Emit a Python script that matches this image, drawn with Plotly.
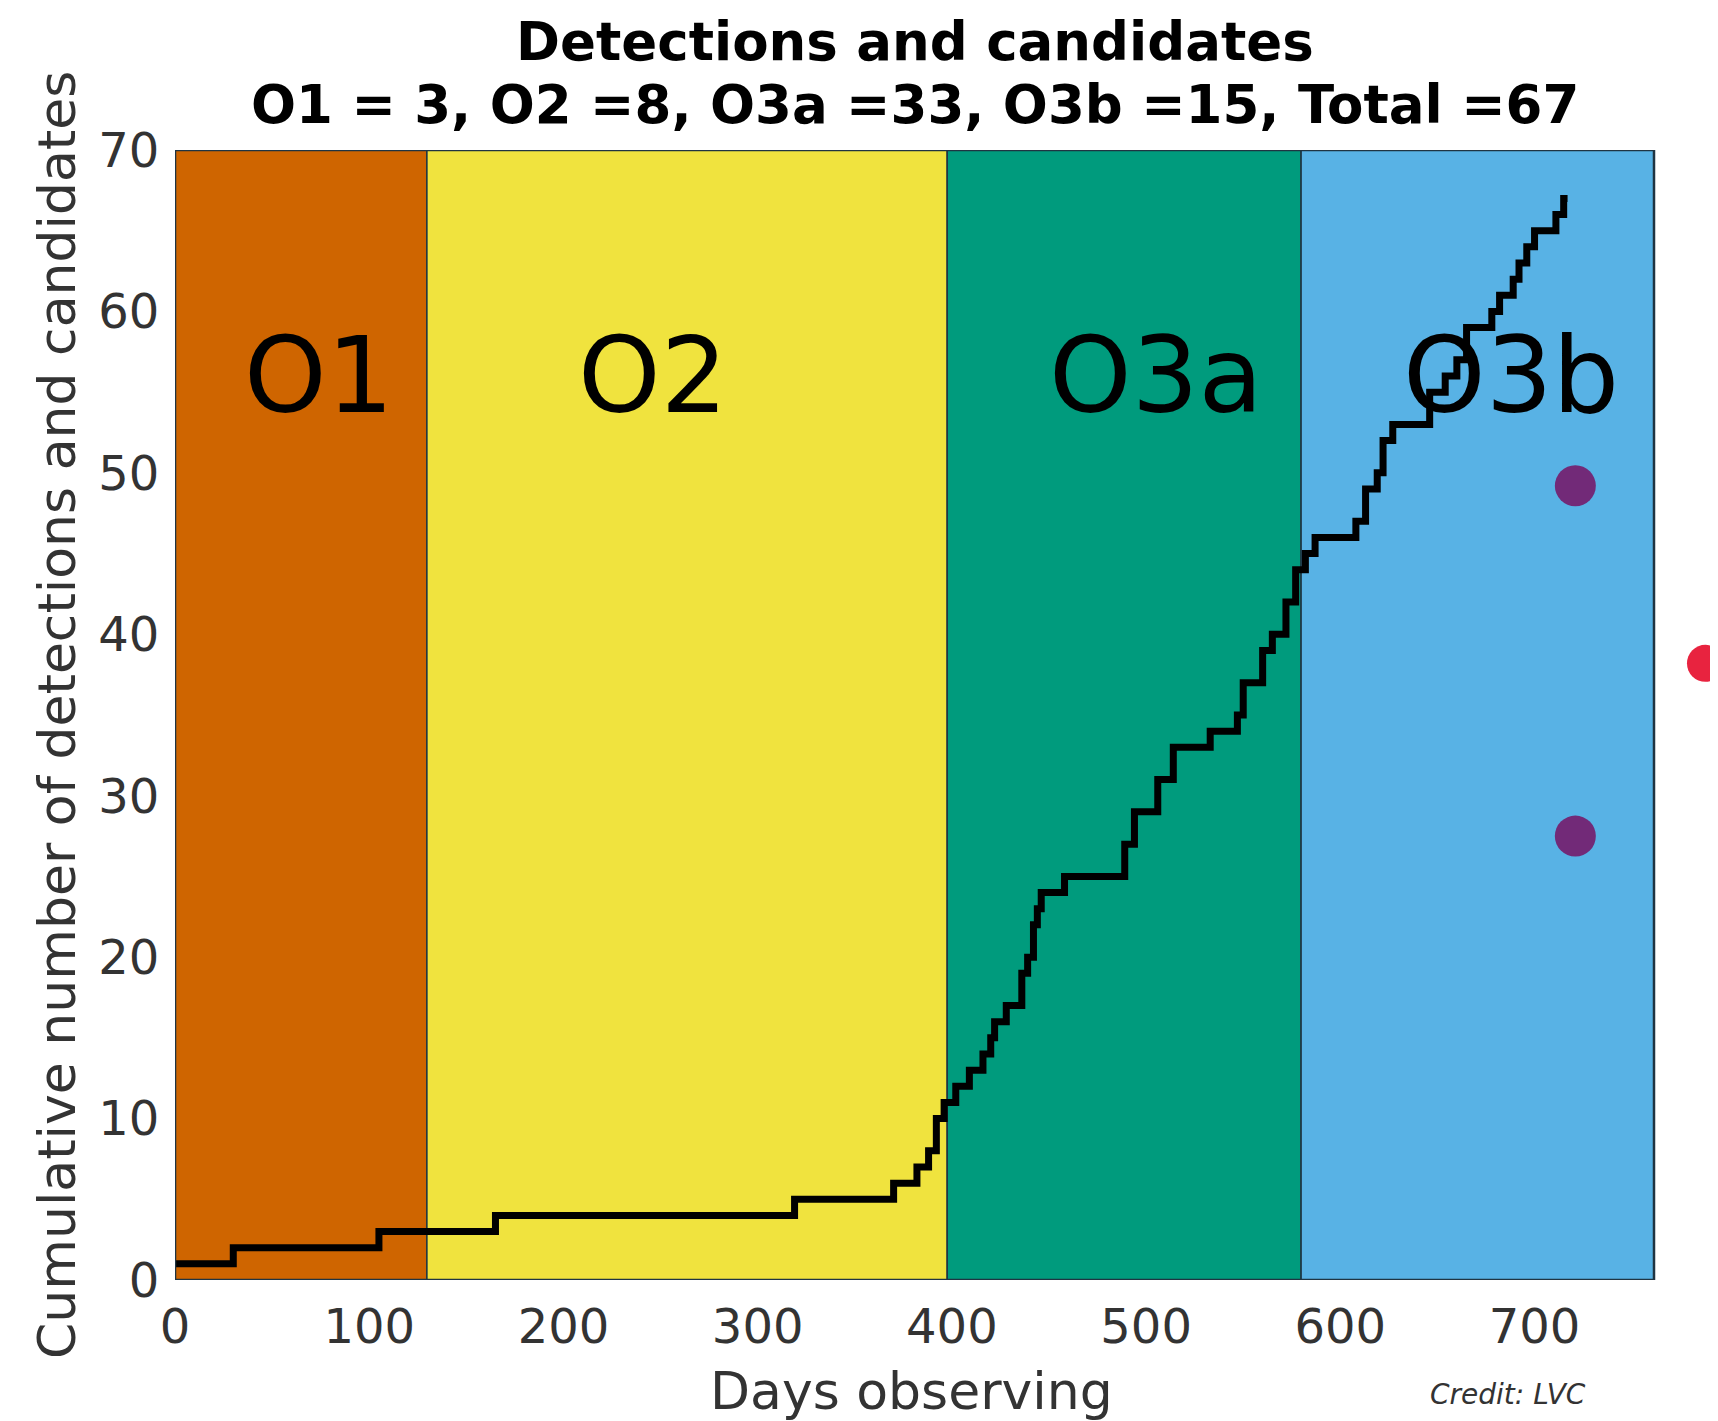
import plotly.graph_objects as go

# ---- data ----
days = [0, 30, 105, 165, 319, 370, 382, 388, 392, 396, 402, 409, 416, 420, 422,
        428, 436, 439, 442, 444, 446, 458, 489, 494, 506, 514, 533, 547, 550,
        560, 565, 572, 577, 582, 587, 608, 613, 619, 622, 627, 646, 654, 660,
        665, 678, 682, 689, 692, 696, 700, 711, 715, 717]
counts = [1, 2, 3, 4, 5, 6, 7, 8, 10, 11, 12, 13, 14, 15, 16,
          17, 19, 20, 22, 23, 24, 25, 27, 29, 31, 33, 34, 35, 37,
          39, 40, 42, 44, 45, 46, 47, 49, 50, 52, 53, 55, 56, 57,
          59, 60, 61, 62, 63, 64, 65, 66, 67, 67]

run_names = ["O1", "O2", "O3a", "O3b"]
run_starts = [0, 129.7, 397.6, 579.8]
run_ends = [129.7, 397.6, 579.8, 761.5]
run_colors = ["#CF6500", "#F0E33E", "#009B7D", "#58B2E5"]
label_x = [74, 246, 505, 688]
label_y = 56

dot_x = [721, 721, 788]
dot_y = [49.2, 27.5, 38.2]
dot_colors = ["#722A78", "#722A78", "#E8233F"]
dot_sizes = [41, 41, 37]

x_ticks = [0, 100, 200, 300, 400, 500, 600, 700]
y_ticks = [0, 10, 20, 30, 40, 50, 60, 70]
y_max = 70

title1 = "Detections and candidates"
title2 = "O1 = 3, O2 =8, O3a =33, O3b =15, Total =67"

FONT = "DejaVu Sans"

# the framed data area ends at run_ends[-1]; the axis continues (unframed) to the page edge
# so that the marker beyond the right frame can still be drawn
DOM_FRAC = 0.95852
X_VIEW_MAX = run_ends[-1] / DOM_FRAC

fig = go.Figure()

shapes = []
for s, e, c in zip(run_starts, run_ends, run_colors):
    shapes.append(dict(type="rect", xref="x", yref="y", x0=s, x1=e, y0=0, y1=y_max,
                       fillcolor=c, line=dict(color="#1f3442", width=1.5),
                       layer="below"))
# outer frame
shapes.append(dict(type="rect", xref="x", yref="y", x0=run_starts[0], x1=run_ends[-1],
                   y0=0, y1=y_max, fillcolor="rgba(0,0,0,0)",
                   line=dict(color="#1f3442", width=2.5), layer="above"))

fig.add_trace(go.Scatter(x=days, y=counts, mode="lines",
                         line=dict(color="black", width=7, shape="hv"),
                         showlegend=False, hoverinfo="skip"))

fig.add_trace(go.Scatter(x=dot_x, y=dot_y, mode="markers",
                         marker=dict(color=dot_colors, size=dot_sizes, opacity=1,
                                     line=dict(width=0)),
                         cliponaxis=False, showlegend=False, hoverinfo="skip"))

annotations = []
for name, lx in zip(run_names, label_x):
    annotations.append(dict(x=lx, y=label_y, xref="x", yref="y", text=name,
                            showarrow=False, font=dict(family=FONT, size=105, color="black"),
                            xanchor="center", yanchor="middle"))

annotations += [
    dict(x=0.4793, y=1.0956, xref="paper", yref="paper", text="<b>%s</b>" % title1,
         showarrow=False, font=dict(family=FONT, size=53, color="black"),
         xanchor="center", yanchor="middle"),
    dict(x=0.4793, y=1.0407, xref="paper", yref="paper", text="<b>%s</b>" % title2,
         showarrow=False, font=dict(family=FONT, size=53, color="black"),
         xanchor="center", yanchor="middle"),
    dict(x=0.4776, y=-0.098, xref="paper", yref="paper", text="Days observing",
         showarrow=False, font=dict(family=FONT, size=52, color="#333333"),
         xanchor="center", yanchor="middle"),
    dict(x=-0.0765, y=0.5, xref="paper", yref="paper",
         text="Cumulative number of detections and candidates", textangle=-90,
         showarrow=False, font=dict(family=FONT, size=52, color="#333333"),
         xanchor="center", yanchor="middle"),
    dict(x=0.8639, y=-0.101, xref="paper", yref="paper", text="<i>Credit: LVC</i>",
         showarrow=False, font=dict(family=FONT, size=28, color="#333333"),
         xanchor="center", yanchor="middle"),
]

# page body has an 8px margin: shrink the figure so the plot area sits where the reference has it
fig.update_layout(
    width=1710, height=1413,
    margin=dict(l=167, r=0, t=142, b=141),
    paper_bgcolor="white", plot_bgcolor="white",
    shapes=shapes, annotations=annotations,
    font=dict(family=FONT, color="#333333"),
    xaxis=dict(domain=[0, 1], range=[0, X_VIEW_MAX], tickvals=x_ticks,
               ticktext=[str(v) for v in x_ticks],
               showgrid=False, zeroline=False, showline=False,
               ticks="outside", ticklen=4, tickcolor="rgba(0,0,0,0)",
               tickfont=dict(family=FONT, size=48, color="#333333")),
    yaxis=dict(range=[0, y_max], tickvals=y_ticks, ticktext=[str(v) for v in y_ticks],
               showgrid=False, zeroline=False, showline=False,
               ticks="outside", ticklen=5, tickcolor="rgba(0,0,0,0)",
               tickfont=dict(family=FONT, size=48, color="#333333")),
)

fig.write_html("out.html")
